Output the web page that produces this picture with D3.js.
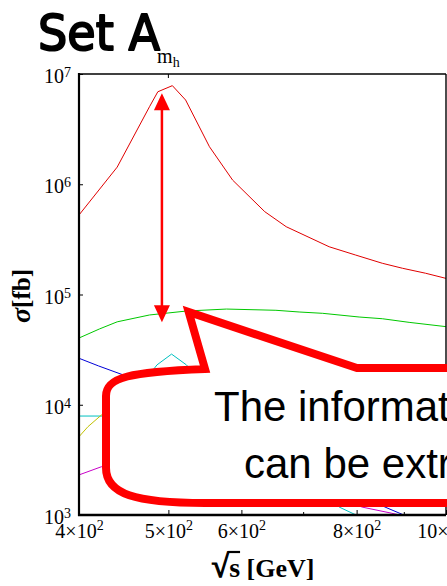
<!DOCTYPE html>
<html><head><meta charset="utf-8">
<script src="https://cdn.jsdelivr.net/npm/d3@7/dist/d3.min.js"></script>
<style>body{margin:0;background:#fff;overflow:hidden}</style>
</head><body><svg id="chart" width="447" height="586"></svg>
<script>
// ---------- data ----------
const titleText = "Set A";
const xTickValues = [400, 500, 600, 800, 1000];
const xTickMantissas = ["4", "5", "6", "8", "10"];
const xTickExponent = "2";
const xMinorTicks = [700, 900];
const yTickValues = [1e3, 1e4, 1e5, 1e6, 1e7];
const yTickExponents = ["3", "4", "5", "6", "7"];
const higgsMass = 500;

const redX = [400, 440, 477, 487, 505, 522, 554, 587, 636, 671, 747, 798, 853, 897, 950, 1000];
const redY = [5.26e5, 1.43e6, 5.05e6, 6.9e6, 7.84e6, 5.81e6, 2.19e6, 1.09e6, 5.64e5, 4.12e5, 2.71e5, 2.28e5, 1.92e5, 1.73e5, 1.56e5, 1.40e5];

const greenX = [400, 421, 440, 477, 523, 578, 654, 693, 735, 805, 853, 912, 1000];
const greenY = [4.03e4, 4.87e4, 5.65e4, 6.52e4, 7.08e4, 7.38e4, 7.19e4, 6.94e4, 6.75e4, 6.25e4, 6.03e4, 5.59e4, 5.11e4];

const blueX = [400, 420, 447, 500, 560, 620, 700, 780, 863, 900, 920];
const blueY = [2.64e4, 2.25e4, 1.86e4, 1.5e4, 1.0e4, 6.5e3, 3.6e3, 1.7e3, 1.16e3, 1.0e3, 0.93e3];

const cyanX = [400, 425, 445, 470, 486, 504, 523, 545, 600, 680, 766, 799, 820];
const cyanY = [7.9e3, 7.9e3, 1.2e4, 1.6e4, 2.3e4, 2.88e4, 2.3e4, 1.6e4, 8e3, 3e3, 1.18e3, 1.0e3, 0.9e3];

const yellowX = [400, 409, 423, 450, 500, 600, 800, 1000];
const yellowY = [5.13e3, 6.32e3, 8.07e3, 9.5e3, 1.05e4, 8e3, 4e3, 2.5e3];

const magentaX = [400, 423, 450, 500, 600, 700, 811, 872, 900];
const magentaY = [2.31e3, 2.74e3, 3.1e3, 3.4e3, 3.0e3, 2.0e3, 1.18e3, 1.04e3, 0.98e3];

const seriesX = [redX, greenX, blueX, cyanX, yellowX, magentaX];
const seriesY = [redY, greenY, blueY, cyanY, yellowY, magentaY];
const seriesColors = ["#e00000", "#00c800", "#0000d8", "#00c0c0", "#c0c000", "#c800c8"];

const arrowX = 492, arrowTop = 6.7e6, arrowBottom = 5.6e4;
const calloutTipX = 526, calloutTipY = 6.93e4;
const calloutLines = ["The informat", "can be extr"];

// ---------- chart ----------
const svg = d3.select("#chart");
const L = 79, R = 446, T = 74, B = 515;
const x = d3.scaleLog().domain([400, 1000]).range([L, R]);
const y = d3.scaleLog().domain([1e3, 1e7]).range([B, T]);
const serif = "'Liberation Serif','Times New Roman',serif";

svg.append("defs").append("clipPath").attr("id", "plotclip")
  .append("rect").attr("x", L).attr("y", T).attr("width", R - L).attr("height", B - T);

// title (hand-written look)
svg.append("text").attr("x", 38).attr("y", 50)
  .attr("font-family", "'DejaVu Sans',sans-serif").attr("font-weight", "normal")
  .attr("font-size", 50).attr("textLength", 122).attr("lengthAdjust", "spacingAndGlyphs")
  .attr("fill", "#000").attr("stroke", "#000").attr("stroke-width", 2).attr("stroke-linejoin", "round")
  .text(titleText);

// curves
const line = d3.line().x(d => x(d[0])).y(d => y(d[1]));
const gCurves = svg.append("g").attr("clip-path", "url(#plotclip)");
seriesX.forEach((xs, i) => {
  const pts = xs.map((v, j) => [v, seriesY[i][j]]);
  gCurves.append("path").attr("d", line(pts)).attr("fill", "none")
    .attr("stroke", seriesColors[i]).attr("stroke-width", 1);
});

// frame
svg.append("line").attr("x1", L).attr("x2", R).attr("y1", T).attr("y2", T).attr("stroke", "#000").attr("stroke-width", 1.4);
svg.append("line").attr("x1", R).attr("x2", R).attr("y1", T).attr("y2", B).attr("stroke", "#000").attr("stroke-width", 1.4);

// x axis
const xAxis = svg.append("g").attr("transform", `translate(0,${B})`)
  .call(d3.axisBottom(x).tickValues(xTickValues).tickSize(-5).tickFormat(() => ""));
const xMinor = svg.append("g").attr("transform", `translate(0,${B})`)
  .call(d3.axisBottom(x).tickValues(xMinorTicks).tickSize(-3).tickFormat(() => ""));
[xAxis, xMinor].forEach(g => { g.select(".domain").remove(); g.selectAll("line").attr("stroke", "#000").attr("stroke-width", 1); });
xAxis.selectAll(".tick text").each(function(d, i) {
  const t = d3.select(this).attr("y", 23).attr("dy", null)
    .attr("font-family", serif).attr("font-size", 20).attr("fill", "#000").attr("text-anchor", "middle");
  t.append("tspan").text(xTickMantissas[i] + "\u00d710");
  t.append("tspan").attr("font-size", 14).attr("dy", -8).text(xTickExponent);
});
svg.append("line").attr("x1", L - 1).attr("x2", R).attr("y1", B).attr("y2", B).attr("stroke", "#000").attr("stroke-width", 2.4);

// y axis
const yAxis = svg.append("g").attr("transform", `translate(${L},0)`)
  .call(d3.axisLeft(y).tickValues(yTickValues).tickSize(-4).tickFormat(() => ""));
yAxis.select(".domain").remove();
yAxis.selectAll("line").attr("stroke", "#000").attr("stroke-width", 1);
yAxis.selectAll(".tick text").each(function(d, i) {
  const t = d3.select(this).attr("x", -8).attr("y", 8.5).attr("dy", null)
    .attr("font-family", serif).attr("font-size", 20).attr("fill", "#000").attr("text-anchor", "end");
  t.append("tspan").text("10");
  t.append("tspan").attr("font-size", 14).attr("dy", -6).text(yTickExponents[i]);
});
svg.append("line").attr("x1", L).attr("x2", L).attr("y1", T - 1).attr("y2", B + 1).attr("stroke", "#000").attr("stroke-width", 2.2);

// m_h tick on top
svg.append("line").attr("x1", x(higgsMass)).attr("x2", x(higgsMass)).attr("y1", T).attr("y2", T + 4)
  .attr("stroke", "#000").attr("stroke-width", 1);
const mhT = svg.append("text").attr("x", x(higgsMass)).attr("y", T - 11).attr("text-anchor", "middle")
  .attr("font-family", serif).attr("font-size", 20).attr("fill", "#000");
mhT.append("tspan").text("m");
mhT.append("tspan").attr("font-size", 14).attr("dy", 4).text("h");

// axis titles
const yt = svg.append("text").attr("transform", "translate(30,296) rotate(-90)").attr("text-anchor", "middle")
  .attr("font-family", serif).attr("font-size", 25).attr("font-weight", "bold").attr("fill", "#000");
yt.append("tspan").attr("font-style", "italic").attr("font-size", 28).text("\u03c3");
yt.append("tspan").text("[fb]");

const xt = svg.append("text").attr("x", 263).attr("y", 577).attr("text-anchor", "middle")
  .attr("font-family", serif).attr("font-size", 26).attr("font-weight", "bold").attr("fill", "#000");
xt.append("tspan").attr("font-size", 32).attr("stroke", "#000").attr("stroke-width", 1.2).text("\u221a");
xt.append("tspan").attr("font-size", 28).text("s");
xt.append("tspan").text(" [GeV]");
const sNode = xt.node();
const s0 = sNode.getStartPositionOfChar(1), s1 = sNode.getEndPositionOfChar(1);
svg.append("line").attr("x1", s0.x - 1).attr("x2", s1.x).attr("y1", 552).attr("y2", 552)
  .attr("stroke", "#000").attr("stroke-width", 2.2);

// double arrow
const ax = x(arrowX), ayT = y(arrowTop), ayB = y(arrowBottom), ah = 17, aw = 8;
svg.append("line").attr("x1", ax).attr("x2", ax).attr("y1", ayT + ah - 2).attr("y2", ayB - ah + 2)
  .attr("stroke", "#ff0000").attr("stroke-width", 2.5);
svg.append("path").attr("d", `M${ax},${ayT}L${ax - aw},${ayT + ah}L${ax + aw},${ayT + ah}Z`).attr("fill", "#ff0000");
svg.append("path").attr("d", `M${ax},${ayB}L${ax - aw},${ayB - ah}L${ax + aw},${ayB - ah}Z`).attr("fill", "#ff0000");

// callout bubble
const tx = x(calloutTipX), ty = y(calloutTipY);
const bubble = `M106,396 C106,377 130,372 205,369 L${tx},${ty} L357,368 L470,368 L470,503 L205,503 C135,503 106,494 106,468 Z`;
svg.append("path").attr("d", bubble).attr("fill", "#fff").attr("stroke", "#ff0000")
  .attr("stroke-width", 8).attr("stroke-linejoin", "miter").attr("stroke-miterlimit", 10);
svg.append("text").attr("x", 214).attr("y", 421).attr("font-family", "'Liberation Sans',Arial,sans-serif")
  .attr("font-size", 42).attr("fill", "#000").text(calloutLines[0]);
svg.append("text").attr("x", 244).attr("y", 478).attr("font-family", "'Liberation Sans',Arial,sans-serif")
  .attr("font-size", 42).attr("fill", "#000").text(calloutLines[1]);
</script></body></html>
